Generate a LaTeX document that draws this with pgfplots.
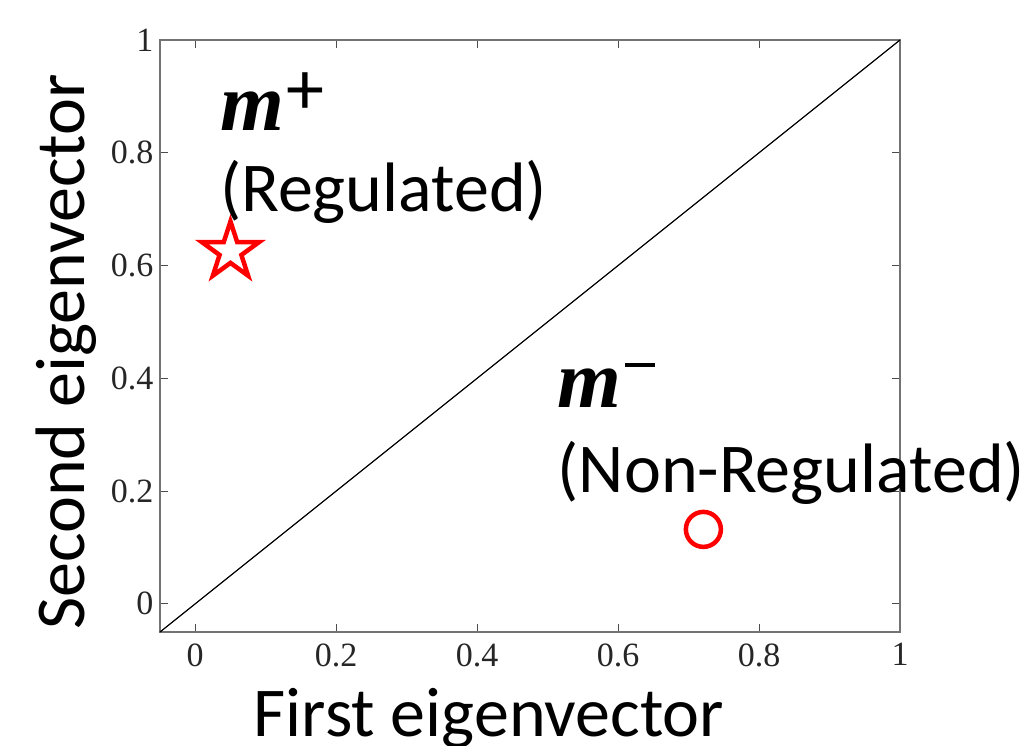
\documentclass[border=0pt]{standalone}
\usepackage{fontspec}
\setmainfont{Carlito}
\newfontfamily\tms{Liberation Serif}
\usepackage{pgfplots}
\pgfplotsset{compat=1.18}
\pgfdeclareplotmark{pentagram}{%
  \pgfpathmoveto{\pgfpointpolar{90}{\pgfplotmarksize}}%
  \pgfpathlineto{\pgfpointpolar{126}{0.382\pgfplotmarksize}}%
  \pgfpathlineto{\pgfpointpolar{162}{\pgfplotmarksize}}%
  \pgfpathlineto{\pgfpointpolar{198}{0.382\pgfplotmarksize}}%
  \pgfpathlineto{\pgfpointpolar{234}{\pgfplotmarksize}}%
  \pgfpathlineto{\pgfpointpolar{270}{0.382\pgfplotmarksize}}%
  \pgfpathlineto{\pgfpointpolar{306}{\pgfplotmarksize}}%
  \pgfpathlineto{\pgfpointpolar{342}{0.382\pgfplotmarksize}}%
  \pgfpathlineto{\pgfpointpolar{18}{\pgfplotmarksize}}%
  \pgfpathlineto{\pgfpointpolar{54}{0.382\pgfplotmarksize}}%
  \pgfpathclose
  \pgfusepathqstroke
}
\begin{document}
\begin{tikzpicture}
\useasboundingbox (-160pt,-113pt) rectangle (863pt,632pt);
\begin{axis}[
  scale only axis,
  width=740pt, height=592pt,
  xmin=-0.05, xmax=1, ymin=-0.05, ymax=1,
  xtick={0,0.2,0.4,0.6,0.8,1},
  ytick={0,0.2,0.4,0.6,0.8,1},
  tick align=inside,
  major tick length=8pt,
  axis line style={black!55, line width=1.2pt},
  every tick/.style={black!70, line width=1pt},
  /pgf/number format/assume math mode=true,
  ticklabel style={font=\tms\fontsize{34}{34}\selectfont, text=black!85},
  xticklabel style={yshift=-8pt},
  yticklabel style={xshift=-3pt},
  clip=false,
]
\addplot[black, line width=1.2pt] coordinates {(-0.05,-0.05) (1,1)};
\addplot[only marks, red, mark=pentagram, mark size=30pt, line width=4.5pt, mark options={line join=miter}] coordinates {(0.05,0.625)};
\addplot[only marks, red, mark=o, mark size=17.5pt, line width=4.5pt] coordinates {(0.721,0.132)};
\node[anchor=base west, inner sep=0pt] at (axis cs:0.035,0.84)
  {{\tms\fontsize{82}{84}\selectfont\bfseries\itshape m}\hspace{3pt}{\fontsize{76}{76}\selectfont\raisebox{16pt}{+}}};
\node[anchor=base west, inner sep=0pt] at (axis cs:0.035,0.695)
  {\fontsize{70}{72}\selectfont (Regulated)};
\node[anchor=base west, inner sep=0pt] at (axis cs:0.514,0.348)
  {{\tms\fontsize{82}{84}\selectfont\bfseries\itshape m}\hspace{4pt}\rule[41pt]{30pt}{3.2pt}};
\node[anchor=base west, inner sep=0pt] at (axis cs:0.514,0.197)
  {\fontsize{70}{72}\selectfont (Non-Regulated)};
\end{axis}
\node[anchor=base, inner sep=0pt] at (329pt,-104pt) {\fontsize{70}{72}\selectfont First eigenvector};
\node[anchor=base, inner sep=0pt, rotate=90] at (-75pt,280pt) {\fontsize{70}{72}\selectfont Second eigenvector};
\end{tikzpicture}
\end{document}
